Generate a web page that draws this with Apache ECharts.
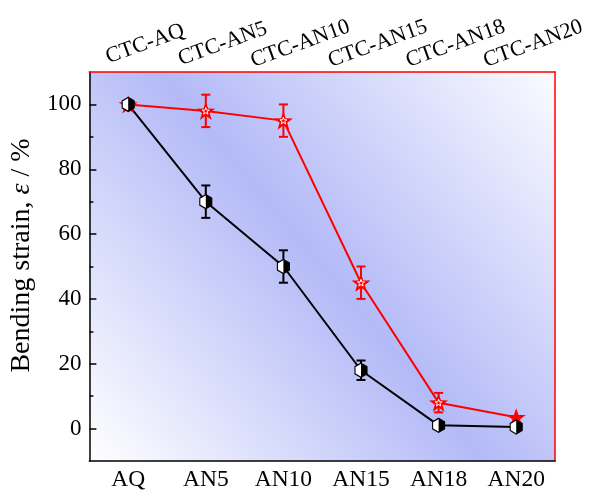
<!DOCTYPE html>
<html>
<head>
<meta charset="utf-8">
<script src="https://cdn.jsdelivr.net/npm/echarts@6/dist/echarts.min.js"></script>
<style>
  html, body { margin: 0; padding: 0; background: #fff; }
  #chart { width: 590px; height: 492px; }
</style>
</head>
<body>
<div id="chart"></div>
<script>
  // sample names, bottom and top axes
  const categories = ['AQ', 'AN5', 'AN10', 'AN15', 'AN18', 'AN20'];
  const topLabels = ['CTC-AQ', 'CTC-AN5', 'CTC-AN10', 'CTC-AN15', 'CTC-AN18', 'CTC-AN20'];

  // bending strain (%) and error half-widths
  const strainAN = [100, 70, 50, 18, 1, 0.5];
  const errAN = [0, 5, 5, 3, 0, 0];
  const strainCTC = [100, 98, 95, 45, 8, 3.5];
  const errCTC = [0, 5, 5, 5, 3, 0];

  const yTicks = [0, 20, 40, 60, 80, 100];
  const yMinorTicks = [10, 30, 50, 70, 90];

  const font = "'Liberation Serif', 'Times New Roman', serif";
  const starPath = 'path://M0,-100 L23.5,-32.4 L95.1,-30.9 L38,12.4 L58.8,80.9 L0,40 L-58.8,80.9 L-38,12.4 L-95.1,-30.9 L-23.5,-32.4 Z';
  const hexPath = 'path://M0,-100 L86.6,-50 L86.6,50 L0,100 L-86.6,50 L-86.6,-50 Z';
  const halfHexPath = 'path://M0,-100 L86.6,-50 L86.6,50 L0,100 Z';

  function errData(vals, errs) {
    return vals.map((v, i) => [i, v - errs[i], v + errs[i]]);
  }

  function errorBars(color) {
    return function (params, api) {
      const lo = api.coord([api.value(0), api.value(1)]);
      const hi = api.coord([api.value(0), api.value(2)]);
      if (Math.abs(hi[1] - lo[1]) < 1) return;
      const w = 4.5;
      const style = { stroke: color, lineWidth: 2 };
      return {
        type: 'group',
        children: [
          { type: 'line', shape: { x1: lo[0], y1: lo[1], x2: hi[0], y2: hi[1] }, style: style },
          { type: 'line', shape: { x1: lo[0] - w, y1: lo[1], x2: lo[0] + w, y2: lo[1] }, style: style },
          { type: 'line', shape: { x1: hi[0] - w, y1: hi[1], x2: hi[0] + w, y2: hi[1] }, style: style }
        ]
      };
    };
  }

  var myChart = echarts.init(document.getElementById('chart'));

  var option = {
    animation: false,
    grid: {
      left: 87,
      right: 35,
      top: 72,
      bottom: 30,
      show: true,
      borderWidth: 0,
      backgroundColor: new echarts.graphic.LinearGradient(0, 1, 1, 0, [
        { offset: 0, color: '#ffffff' },
        { offset: 0.5, color: '#b3baf7' },
        { offset: 1, color: '#fbfbff' }
      ])
    },
    xAxis: [
      {
        type: 'category',
        data: categories,
        position: 'bottom',
        boundaryGap: true,
        axisLine: { onZero: false, lineStyle: { color: '#000', width: 1.5 } },
        axisTick: { alignWithLabel: true, inside: true, length: 8, lineStyle: { color: '#000', width: 1.5 } },
        axisLabel: { color: '#000', fontFamily: font, fontSize: 23.5, margin: 7, interval: 0 },
        splitLine: { show: false }
      },
      {
        type: 'category',
        data: topLabels,
        position: 'top',
        boundaryGap: true,
        axisLine: { onZero: false, lineStyle: { color: '#ff0000', width: 1.5 } },
        axisTick: { alignWithLabel: true, inside: true, length: 8, lineStyle: { color: '#ff0000', width: 1.5 } },
        axisLabel: {
          color: '#000',
          fontFamily: font,
          fontSize: 22,
          rotate: -20,
          interval: 0,
          hideOverlap: false,
          align: 'center',
          verticalAlign: 'middle',
          padding: [0, 0, 0, 36],
          margin: 22
        },
        splitLine: { show: false }
      }
    ],
    yAxis: [
      {
        type: 'value',
        min: -10,
        max: 110,
        position: 'left',
        name: '{t|Bending strain, }{e|ε}{t| / %}',
        nameLocation: 'middle',
        nameGap: 37,
        nameTextStyle: {
          padding: [0, 0, 0, 22],
          rich: {
            t: { fontFamily: font, fontSize: 28, color: '#000' },
            e: { fontFamily: font, fontSize: 28, fontStyle: 'italic', color: '#000' }
          }
        },
        axisLine: { show: true, onZero: false, lineStyle: { color: '#000', width: 1.5 } },
        axisTick: { show: true, inside: true, length: 7, customValues: yTicks, lineStyle: { color: '#000', width: 1.5 } },
        axisLabel: { color: '#000', fontFamily: font, fontSize: 23, margin: 8, customValues: yTicks },
        splitLine: { show: false }
      },
      {
        type: 'value',
        min: -10,
        max: 110,
        position: 'right',
        axisLine: { show: true, onZero: false, lineStyle: { color: '#ff0000', width: 1.5 } },
        axisTick: { show: false },
        axisLabel: { show: false },
        splitLine: { show: false }
      },
      {
        type: 'value',
        min: -10,
        max: 110,
        position: 'left',
        axisLine: { show: false, onZero: false },
        axisTick: { show: true, inside: true, length: 4, customValues: yMinorTicks, lineStyle: { color: '#000', width: 1.5 } },
        axisLabel: { show: false },
        splitLine: { show: false }
      }
    ],
    series: [
      {
        name: 'AN line',
        type: 'line',
        data: strainAN,
        symbol: 'none',
        lineStyle: { color: '#000', width: 2 },
        z: 2
      },
      {
        name: 'CTC line',
        type: 'line',
        data: strainCTC,
        symbol: 'none',
        lineStyle: { color: '#ff0000', width: 2 },
        z: 2
      },
      {
        name: 'AN error',
        type: 'custom',
        data: errData(strainAN, errAN),
        renderItem: errorBars('#000'),
        z: 3
      },
      {
        name: 'CTC error',
        type: 'custom',
        data: errData(strainCTC, errCTC),
        renderItem: errorBars('#ff0000'),
        z: 3
      },
      {
        name: 'CTC star',
        type: 'scatter',
        data: strainCTC,
        symbol: starPath,
        symbolSize: 19,
        symbolKeepAspect: true,
        itemStyle: { color: '#ff0000', opacity: 1 },
        z: 4
      },
      {
        name: 'CTC star inner',
        type: 'scatter',
        data: strainCTC.slice(0, 5),
        symbol: starPath,
        symbolSize: 7,
        symbolKeepAspect: true,
        itemStyle: { color: '#ff0000', borderColor: '#ffffff', borderWidth: 1, opacity: 1 },
        z: 5
      },
      {
        name: 'AN hex',
        type: 'scatter',
        data: strainAN,
        symbol: hexPath,
        symbolSize: [12, 14],
        itemStyle: { color: '#ffffff', borderColor: '#000', borderWidth: 1.2, opacity: 1 },
        z: 6
      },
      {
        name: 'AN hex half',
        type: 'scatter',
        data: strainAN,
        symbol: halfHexPath,
        symbolSize: [6, 14],
        symbolOffset: [3, 0],
        itemStyle: { color: '#000', opacity: 1 },
        z: 7
      }
    ]
  };

  myChart.setOption(option);
</script>
</body>
</html>
